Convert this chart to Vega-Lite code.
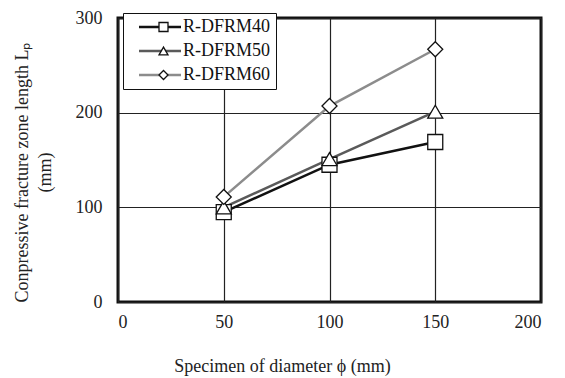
{
  "$schema": "https://vega.github.io/schema/vega-lite/v6.json",
  "width": 423,
  "height": 284,
  "autosize": {"type": "none"},
  "padding": {"left": 118, "top": 18, "right": 24, "bottom": 76},
  "background": "white",
  "config": {
    "font": "Liberation Serif, Times New Roman, serif",
    "view": {"stroke": "#111", "strokeWidth": 3},
    "axis": {
      "grid": true,
      "gridColor": "#222",
      "gridWidth": 1.2,
      "gridOpacity": 1,
      "domain": false,
      "ticks": false,
      "labelFont": "Liberation Serif, Times New Roman, serif",
      "labelFontSize": 18,
      "labelColor": "#222",
      "titleFont": "Liberation Serif, Times New Roman, serif",
      "titleFontSize": 18,
      "titleFontWeight": "normal",
      "titleColor": "#222"
    }
  },
  "data": {
    "values": [
      {"series": "R-DFRM40", "marker": "M40", "d": 50, "lp": 95},
      {"series": "R-DFRM40", "marker": "M40", "d": 100, "lp": 145},
      {"series": "R-DFRM40", "marker": "M40", "d": 150, "lp": 169},
      {"series": "R-DFRM50", "marker": "M50", "d": 50, "lp": 100},
      {"series": "R-DFRM50", "marker": "M50", "d": 100, "lp": 151},
      {"series": "R-DFRM50", "marker": "M50", "d": 150, "lp": 201},
      {"series": "R-DFRM60", "marker": "M60", "d": 50, "lp": 111},
      {"series": "R-DFRM60", "marker": "M60", "d": 100, "lp": 207},
      {"series": "R-DFRM60", "marker": "M60", "d": 150, "lp": 267}
    ]
  },
  "encoding": {
    "x": {
      "field": "d",
      "type": "quantitative",
      "scale": {"domain": [0, 200], "nice": false},
      "axis": {
        "values": [0, 50, 100, 150, 200],
        "labelPadding": 11,
        "title": "Specimen of diameter  ϕ (mm)",
        "titlePadding": 26,
        "titleX": 164
      }
    },
    "y": {
      "field": "lp",
      "type": "quantitative",
      "scale": {"domain": [0, 300], "nice": false},
      "axis": {
        "values": [0, 100, 200, 300],
        "labelPadding": 16,
        "title": ["Conpressive fracture zone length Lₚ", "(mm)"],
        "titleLineHeight": 23,
        "titlePadding": 21,
        "titleY": 154
      }
    }
  },
  "layer": [
    {
      "mark": {"type": "line", "strokeWidth": 2.5},
      "encoding": {
        "color": {
          "field": "series",
          "type": "nominal",
          "scale": {
            "domain": ["R-DFRM40", "R-DFRM50", "R-DFRM60"],
            "range": ["#111111", "#5a5a5a", "#8c8c8c"]
          },
          "legend": {
            "orient": "none",
            "legendX": 5,
            "legendY": -5,
            "title": null,
            "symbolType": "M-5.25,0H5.25",
            "symbolSize": 64,
            "symbolStrokeWidth": 2.5,
            "symbolOffset": 23,
            "labelOffset": 14,
            "labelExpr": "datum.label + '  '",
            "labelFont": "Liberation Serif, Times New Roman, serif",
            "labelFontSize": 18,
            "labelColor": "#111",
            "padding": 5,
            "rowPadding": 6,
            "fillColor": "white",
            "strokeColor": "#111",
            "zindex": 1
          }
        }
      }
    },
    {
      "mark": {
        "type": "point",
        "filled": false,
        "fill": "white",
        "strokeWidth": 1.3,
        "size": 225,
        "opacity": 1
      },
      "encoding": {
        "shape": {
          "field": "marker",
          "type": "nominal",
          "scale": {
            "domain": ["M40", "M50", "M60"],
            "range": ["square", "triangle-up", "diamond"]
          },
          "legend": {
            "orient": "none",
            "legendX": 5,
            "legendY": -5,
            "title": null,
            "symbolSize": 81,
            "symbolFillColor": "white",
            "symbolStrokeWidth": 1.3,
            "symbolOffset": 26.5,
            "labelOffset": 14,
            "labelExpr": "' '",
            "labelFont": "Liberation Serif, Times New Roman, serif",
            "labelFontSize": 18,
            "padding": 5,
            "rowPadding": 6,
            "zindex": 2
          }
        },
        "stroke": {
          "field": "marker",
          "type": "nominal",
          "scale": {
            "domain": ["M40", "M50", "M60"],
            "range": ["#111111", "#111111", "#111111"]
          },
          "legend": {
            "orient": "none",
            "legendX": 5,
            "legendY": -5,
            "title": null,
            "symbolSize": 81,
            "symbolFillColor": "white",
            "symbolStrokeWidth": 1.3,
            "symbolOffset": 26.5,
            "labelOffset": 14,
            "labelExpr": "' '",
            "labelFont": "Liberation Serif, Times New Roman, serif",
            "labelFontSize": 18,
            "padding": 5,
            "rowPadding": 6,
            "zindex": 2
          }
        }
      }
    }
  ]
}
